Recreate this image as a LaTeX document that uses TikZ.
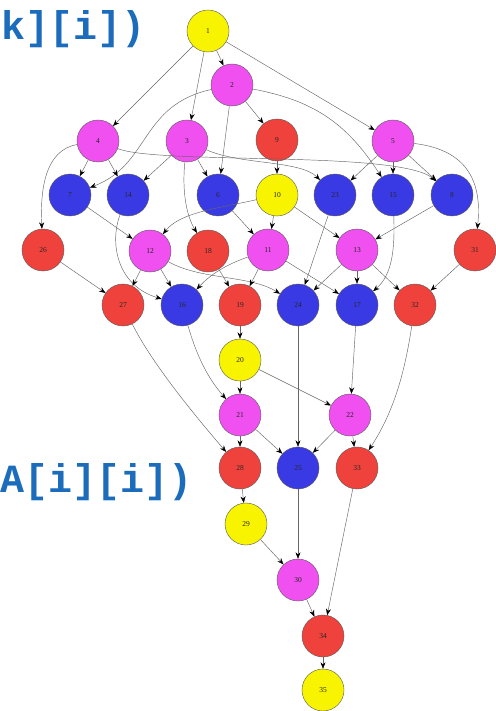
\documentclass[tikz,border=0pt]{standalone}
\usepackage{fontspec}
\setmainfont{Liberation Serif}
\newfontfamily\codefont{Liberation Mono}
\usetikzlibrary{arrows.meta}
\definecolor{gyellow}{RGB}{248,244,0}
\definecolor{gmagenta}{RGB}{240,80,240}
\definecolor{gblue}{RGB}{58,58,228}
\definecolor{gred}{RGB}{240,66,60}
\definecolor{codeblue}{RGB}{28,108,188}
\tikzset{
  tnode/.style={circle, draw=black!65, line width=0.4pt, minimum size=42pt,
    inner sep=0pt, font=\fontsize{7.5}{8}\selectfont, text=black!85},
  ynode/.style={tnode, fill=gyellow},
  mnode/.style={tnode, fill=gmagenta},
  bnode/.style={tnode, fill=gblue},
  rnode/.style={tnode, fill=gred},
  conn/.style={draw=black!60, line width=0.45pt,
    -{Stealth[length=6.5pt,width=5pt,black]}},
  codetext/.style={anchor=base west, inner sep=0pt, text=codeblue,
    font=\codefont\bfseries\fontsize{40}{40}\selectfont}
}
\begin{document}
\begin{tikzpicture}[x=1pt,y=-1pt]
\useasboundingbox (0,0) rectangle (495,711);
\fill[white] (0,0) rectangle (495,711);

% code fragments
\node[codetext] (c1) at (1,40) {k][i])};
\node[codetext] (c2) at (0,492) {A[i][i])};

% task nodes
\node[ynode] (n1)  at (208,31)  {1};
\node[mnode] (n2)  at (232,85)  {2};
\node[mnode] (n4)  at (98,141)  {4};
\node[mnode] (n3)  at (187,141) {3};
\node[rnode] (n9)  at (277,140) {9};
\node[mnode] (n5)  at (393,141) {5};
\node[bnode] (n7)  at (70,195)  {7};
\node[bnode] (n14) at (128,195) {14};
\node[bnode] (n6)  at (218,195) {6};
\node[ynode] (n10) at (277,195) {10};
\node[bnode] (n23) at (335,195) {23};
\node[bnode] (n15) at (393,195) {15};
\node[bnode] (n8)  at (452,195) {8};
\node[rnode] (n26) at (43,250)  {26};
\node[mnode] (n12) at (150,251) {12};
\node[rnode] (n18) at (208,251) {18};
\node[mnode] (n11) at (268,250) {11};
\node[mnode] (n13) at (357,250) {13};
\node[rnode] (n31) at (475,250) {31};
\node[rnode] (n27) at (123,305) {27};
\node[bnode] (n16) at (182,305) {16};
\node[rnode] (n19) at (240,305) {19};
\node[bnode] (n24) at (298,305) {24};
\node[bnode] (n17) at (357,305) {17};
\node[rnode] (n32) at (415,305) {32};
\node[ynode] (n20) at (240,360) {20};
\node[mnode] (n21) at (240,415) {21};
\node[mnode] (n22) at (350,415) {22};
\node[rnode] (n28) at (240,468) {28};
\node[bnode] (n25) at (298,468) {25};
\node[rnode] (n33) at (357,468) {33};
\node[ynode] (n29) at (246,524) {29};
\node[mnode] (n30) at (298,580) {30};
\node[rnode] (n34) at (323,636) {34};
\node[ynode] (n35) at (323,690) {35};

% dependencies
\draw[conn] (n1) -- (n2);
\draw[conn] (n1) -- (n4);
\draw[conn] (n1) -- (n3);
\draw[conn] (n1) -- (n5);

\draw[conn] (n2) -- (n9);
\draw[conn] (n2) -- (n6);
\draw[conn] (n2) .. controls (140,105) and (150,165) .. (n7);
\draw[conn] (n2) .. controls (310,100) and (345,120) .. (n15);

\draw[conn] (n4) -- (n7);
\draw[conn] (n4) -- (n14);
\draw[conn] (n4) .. controls (45,150) and (40,190) .. (n26);
\draw[conn] (n4) .. controls (160,165) and (400,150) .. (n8);

\draw[conn] (n3) -- (n14);
\draw[conn] (n3) -- (n6);
\draw[conn] (n3) .. controls (182,190) and (186,215) .. (n18);
\draw[conn] (n3) .. controls (240,165) and (300,160) .. (n23);

\draw[conn] (n9) -- (n10);

\draw[conn] (n5) -- (n23);
\draw[conn] (n5) -- (n15);
\draw[conn] (n5) -- (n8);
\draw[conn] (n5) .. controls (470,150) and (482,185) .. (n31);

\draw[conn] (n7) -- (n12);
\draw[conn] (n14) .. controls (110,240) and (115,285) .. (n16);
\draw[conn] (n6) -- (n11);
\draw[conn] (n10) -- (n11);
\draw[conn] (n10) .. controls (220,208) and (180,212) .. (n12);
\draw[conn] (n10) -- (n13);
\draw[conn] (n23) -- (n24);
\draw[conn] (n15) .. controls (395,250) and (392,275) .. (n17);
\draw[conn] (n8) -- (n13);

\draw[conn] (n26) -- (n27);
\draw[conn] (n12) -- (n27);
\draw[conn] (n12) -- (n16);
\draw[conn] (n12) .. controls (200,280) and (250,275) .. (n24);
\draw[conn] (n18) -- (n19);
\draw[conn] (n11) .. controls (225,265) and (210,275) .. (n16);
\draw[conn] (n11) -- (n19);
\draw[conn] (n11) -- (n17);
\draw[conn] (n13) -- (n24);
\draw[conn] (n13) -- (n17);
\draw[conn] (n13) -- (n32);
\draw[conn] (n31) -- (n32);

\draw[conn] (n19) -- (n20);
\draw[conn] (n16) .. controls (195,350) and (205,375) .. (n21);
\draw[conn] (n27) .. controls (150,360) and (190,410) .. (n28);
\draw[conn] (n24) -- (n25);
\draw[conn] (n17) -- (n22);
\draw[conn] (n32) .. controls (405,370) and (395,410) .. (n33);

\draw[conn] (n20) -- (n21);
\draw[conn] (n20) -- (n22);
\draw[conn] (n21) -- (n28);
\draw[conn] (n21) -- (n25);
\draw[conn] (n22) -- (n25);
\draw[conn] (n22) -- (n33);

\draw[conn] (n28) -- (n29);
\draw[conn] (n29) -- (n30);
\draw[conn] (n25) -- (n30);
\draw[conn] (n30) -- (n34);
\draw[conn] (n33) -- (n34);
\draw[conn] (n34) -- (n35);
\end{tikzpicture}
\end{document}
